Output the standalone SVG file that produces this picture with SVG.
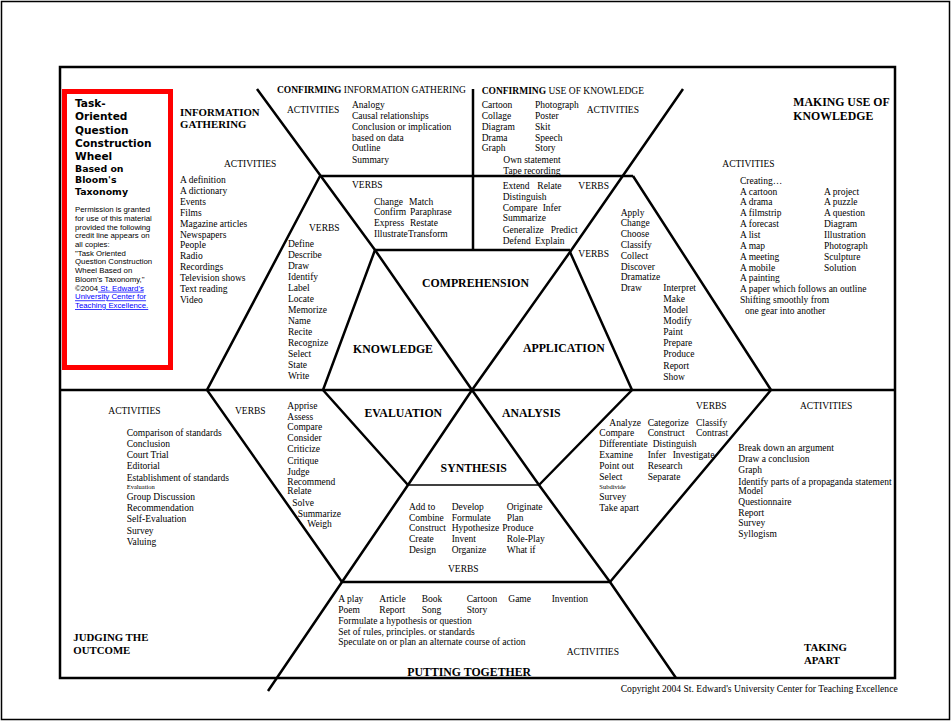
<svg xmlns="http://www.w3.org/2000/svg" width="951" height="721" viewBox="0 0 951 721">
<style>
.ln{stroke:#000;stroke-width:2.5;fill:none;stroke-linejoin:miter}
.thin{stroke:#000;stroke-width:1.5;fill:none}
.t{font-family:"Liberation Serif",serif;font-size:9.5px;fill:#000}
.sm{font-family:"Liberation Serif",serif;font-size:6.5px;fill:#000}
.lab{font-family:"Liberation Serif",serif;font-size:9.5px;fill:#000}
.h{font-family:"Liberation Serif",serif;font-weight:bold;font-size:11.8px;fill:#000}
.hc{font-family:"Liberation Serif",serif;font-weight:bold;font-size:10.8px;fill:#000}
.bt{font-family:"DejaVu Sans",sans-serif;font-weight:bold;fill:#000}
.p{font-family:"Liberation Sans",Arial,sans-serif;font-size:7.8px;fill:#000}
.lk{fill:#0000ff;text-decoration:underline}
</style>
<rect x="0" y="0" width="951" height="721" fill="#fff"/>
<rect x="1.5" y="1.5" width="948" height="718" fill="none" stroke="#000" stroke-width="1.5"/>

<g id="connectors">
<rect class="ln" x="60" y="67" width="835" height="611"/>
<line class="ln" x1="60" y1="390" x2="895" y2="390"/>
<polyline class="ln" points="257,89 375,250 472,390 539,485 610,582 676,678"/>
<polyline class="ln" points="683,89 570,252 472,390 408,485 342,582 268,691"/>
<polyline class="ln" points="320,176 207,390 342,582"/>
<polyline class="ln" points="633,176 771,390 610,582"/>
<line class="ln" x1="320" y1="176" x2="633" y2="176"/>
<line class="ln" x1="375" y1="250" x2="570" y2="250"/>
<line class="ln" x1="473" y1="89" x2="473" y2="250"/>
<polyline class="ln" points="375,250 323,390 408,485"/>
<polyline class="ln" points="570,252 632,390 539,485"/>
<line class="thin" x1="408" y1="485" x2="539" y2="485"/>
<line class="ln" x1="342" y1="582" x2="610" y2="582"/>
</g>

<g id="title-box">
<rect x="64.5" y="91.5" width="106" height="276" fill="none" stroke="#ff0000" stroke-width="5"/>
<text class="bt" font-size="10.6">
<tspan x="75" y="107">Task-</tspan>
<tspan x="75" y="120">Oriented</tspan>
<tspan x="75" y="133.5">Question</tspan>
<tspan x="75" y="146.5">Construction</tspan>
<tspan x="75" y="160">Wheel</tspan>
</text>
<text class="bt" font-size="9.4">
<tspan x="75" y="172">Based on</tspan>
<tspan x="75" y="183">Bloom's</tspan>
<tspan x="75" y="195">Taxonomy</tspan>
</text>
<text class="p">
<tspan x="75" y="212">Permission is granted</tspan>
<tspan x="75" y="221">for use of this material</tspan>
<tspan x="75" y="229.7">provided the following</tspan>
<tspan x="75" y="238.4">credit line appears on</tspan>
<tspan x="75" y="247">all copies:</tspan>
<tspan x="75" y="255.7">"Task Oriented</tspan>
<tspan x="75" y="264.4">Question Construction</tspan>
<tspan x="75" y="273">Wheel Based on</tspan>
<tspan x="75" y="281.7">Bloom's Taxonomy,"</tspan>
<tspan x="75" y="290.7">©2004<tspan class="lk"> St. Edward's</tspan></tspan>
<tspan x="75" y="299.4" class="lk">University Center for</tspan>
<tspan x="75" y="308" class="lk">Teaching Excellence.</tspan>
</text>
</g>

<g id="information-gathering">
<text class="hc"><tspan x="180" y="115.5">INFORMATION</tspan><tspan x="180" y="127.5">GATHERING</tspan></text>
<text class="lab" x="224" y="166.5">ACTIVITIES</text>
<text class="t">
<tspan x="180" y="183">A definition</tspan>
<tspan x="180" y="193.7">A dictionary</tspan>
<tspan x="180" y="204.7">Events</tspan>
<tspan x="180" y="216.3">Films</tspan>
<tspan x="180" y="227">Magazine articles</tspan>
<tspan x="180" y="237.7">Newspapers</tspan>
<tspan x="180" y="248.3">People</tspan>
<tspan x="180" y="258.7">Radio</tspan>
<tspan x="180" y="270.3">Recordings</tspan>
<tspan x="180" y="281.3">Television shows</tspan>
<tspan x="180" y="292.3">Text reading</tspan>
<tspan x="180" y="303">Video</tspan>
</text>
</g>

<g id="confirming-information-gathering">
<text class="t" x="277" y="92.5" font-size="9.7"><tspan font-weight="bold">CONFIRMING</tspan> INFORMATION GATHERING</text>
<text class="lab" x="287" y="113.3">ACTIVITIES</text>
<text class="t">
<tspan x="352" y="108">Analogy</tspan>
<tspan x="352" y="118.7">Causal relationships</tspan>
<tspan x="352" y="129.7">Conclusion or implication</tspan>
<tspan x="352" y="140.7">based on data</tspan>
<tspan x="352" y="151.3">Outline</tspan>
<tspan x="352" y="163">Summary</tspan>
</text>
<text class="lab" x="352" y="187.5">VERBS</text>
<text class="t">
<tspan x="374" y="204.7">Change</tspan><tspan x="409" y="204.7">Match</tspan>
<tspan x="374" y="215.3">Confirm</tspan><tspan x="410" y="215.3">Paraphrase</tspan>
<tspan x="374" y="226.3">Express</tspan><tspan x="410" y="226.3">Restate</tspan>
<tspan x="374" y="237">Illustrate</tspan><tspan x="408" y="237">Transform</tspan>
</text>
</g>

<g id="confirming-use-of-knowledge">
<text class="t" x="481.7" y="93.5" font-size="10.6"><tspan font-weight="bold">CONFIRMING</tspan> USE OF KNOWLEDGE</text>
<text class="lab" x="586.7" y="113.3">ACTIVITIES</text>
<text class="t">
<tspan x="481.7" y="108">Cartoon</tspan><tspan x="535" y="108">Photograph</tspan>
<tspan x="481.7" y="118.7">Collage</tspan><tspan x="535" y="118.7">Poster</tspan>
<tspan x="481.7" y="129.7">Diagram</tspan><tspan x="535" y="129.7">Skit</tspan>
<tspan x="481.7" y="140.7">Drama</tspan><tspan x="535" y="140.7">Speech</tspan>
<tspan x="481.7" y="151.3">Graph</tspan><tspan x="535" y="151.3">Story</tspan>
<tspan x="503.3" y="163">Own statement</tspan>
<tspan x="503.3" y="173.7">Tape recording</tspan>
</text>
<text class="lab" x="578.3" y="189">VERBS</text>
<text class="t">
<tspan x="502.7" y="188.7">Extend</tspan><tspan x="537.3" y="188.7">Relate</tspan>
<tspan x="502.7" y="199.7">Distinguish</tspan>
<tspan x="502.7" y="210.7">Compare</tspan><tspan x="542.7" y="210.7">Infer</tspan>
<tspan x="502.7" y="221.3">Summarize</tspan>
<tspan x="502.7" y="233">Generalize</tspan><tspan x="550.7" y="233">Predict</tspan>
<tspan x="502.7" y="243.7">Defend</tspan><tspan x="535" y="243.7">Explain</tspan>
</text>
</g>

<g id="making-use-of-knowledge">
<text class="h" font-size="12"><tspan x="793.3" y="106">MAKING USE OF</tspan><tspan x="793.3" y="120">KNOWLEDGE</tspan></text>
<text class="lab" x="722.3" y="166.5">ACTIVITIES</text>
<text class="t">
<tspan x="740" y="184">Creating…</tspan>
<tspan x="740" y="194.7">A cartoon</tspan><tspan x="824" y="194.7">A project</tspan>
<tspan x="740" y="205.3">A drama</tspan><tspan x="824" y="205.3">A puzzle</tspan>
<tspan x="740" y="216.3">A filmstrip</tspan><tspan x="824" y="216.3">A question</tspan>
<tspan x="740" y="227.3">A forecast</tspan><tspan x="824" y="227.3">Diagram</tspan>
<tspan x="740" y="238">A list</tspan><tspan x="824" y="238">Illustration</tspan>
<tspan x="740" y="249">A map</tspan><tspan x="824" y="249">Photograph</tspan>
<tspan x="740" y="259.7">A meeting</tspan><tspan x="824" y="259.7">Sculpture</tspan>
<tspan x="740" y="270.7">A mobile</tspan><tspan x="824" y="270.7">Solution</tspan>
<tspan x="740" y="281.3">A painting</tspan>
<tspan x="740" y="292.3">A paper which follows an outline</tspan>
<tspan x="740" y="303">Shifting smoothly from</tspan>
<tspan x="745" y="314">one gear into another</tspan>
</text>
</g>

<g id="knowledge">
<text class="lab" x="309" y="231">VERBS</text>
<text class="t">
<tspan x="288" y="247">Define</tspan>
<tspan x="288" y="258">Describe</tspan>
<tspan x="288" y="269">Draw</tspan>
<tspan x="288" y="280.3">Identify</tspan>
<tspan x="288" y="291.3">Label</tspan>
<tspan x="288" y="302">Locate</tspan>
<tspan x="288" y="313">Memorize</tspan>
<tspan x="288" y="324">Name</tspan>
<tspan x="288" y="335.3">Recite</tspan>
<tspan x="288" y="346.3">Recognize</tspan>
<tspan x="288" y="357">Select</tspan>
<tspan x="288" y="368">State</tspan>
<tspan x="288" y="378.7">Write</tspan>
</text>
<text class="h" x="393" y="353" text-anchor="middle">KNOWLEDGE</text>
</g>

<g id="comprehension">
<text class="h" x="475.5" y="287.3" text-anchor="middle">COMPREHENSION</text>
</g>

<g id="application">
<text class="h" x="563.8" y="352.3" text-anchor="middle">APPLICATION</text>
<text class="lab" x="578.3" y="257">VERBS</text>
<text class="t">
<tspan x="620.7" y="215.7">Apply</tspan>
<tspan x="620.7" y="226.3">Change</tspan>
<tspan x="620.7" y="237">Choose</tspan>
<tspan x="620.7" y="248">Classify</tspan>
<tspan x="620.7" y="259">Collect</tspan>
<tspan x="620.7" y="269.7">Discover</tspan>
<tspan x="620.7" y="280.3">Dramatize</tspan>
<tspan x="620.7" y="291.3">Draw</tspan>
<tspan x="663.3" y="291.3">Interpret</tspan>
<tspan x="663.3" y="302">Make</tspan>
<tspan x="663.3" y="313">Model</tspan>
<tspan x="663.3" y="324">Modify</tspan>
<tspan x="663.3" y="335.3">Paint</tspan>
<tspan x="663.3" y="346.3">Prepare</tspan>
<tspan x="663.3" y="357.3">Produce</tspan>
<tspan x="663.3" y="368.7">Report</tspan>
<tspan x="663.3" y="379.7">Show</tspan>
</text>
</g>

<g id="evaluation">
<text class="h" x="403.3" y="417.3" text-anchor="middle">EVALUATION</text>
<text class="lab" x="108.3" y="414">ACTIVITIES</text>
<text class="lab" x="235" y="414">VERBS</text>
<text class="t">
<tspan x="126.7" y="436.3">Comparison of standards</tspan>
<tspan x="126.7" y="447.3">Conclusion</tspan>
<tspan x="126.7" y="458">Court Trial</tspan>
<tspan x="126.7" y="468.7">Editorial</tspan>
<tspan x="126.7" y="480.7">Establishment of standards</tspan>
</text>
<text class="sm" x="126.7" y="489">Evaluation</text>
<text class="t">
<tspan x="126.7" y="500.3">Group Discussion</tspan>
<tspan x="126.7" y="511.3">Recommendation</tspan>
<tspan x="126.7" y="522.3">Self-Evaluation</tspan>
<tspan x="126.7" y="534">Survey</tspan>
<tspan x="126.7" y="544.7">Valuing</tspan>
</text>
<text class="t">
<tspan x="287.3" y="408.7">Apprise</tspan>
<tspan x="287.3" y="419.7">Assess</tspan>
<tspan x="287.3" y="430.3">Compare</tspan>
<tspan x="287.3" y="441.3">Consider</tspan>
<tspan x="287.3" y="452.3">Criticize</tspan>
<tspan x="287.3" y="463.7">Critique</tspan>
<tspan x="287.3" y="474.7">Judge</tspan>
<tspan x="287.3" y="484.7">Recommend</tspan>
<tspan x="287.3" y="494">Relate</tspan>
<tspan x="292.3" y="506.3">Solve</tspan>
<tspan x="297.7" y="517">Summarize</tspan>
<tspan x="307.3" y="527.3">Weigh</tspan>
</text>
</g>

<g id="analysis">
<text class="h" x="531.3" y="417.3" text-anchor="middle">ANALYSIS</text>
<text class="lab" x="696" y="409">VERBS</text>
<text class="lab" x="800" y="409">ACTIVITIES</text>
<text class="t">
<tspan x="609.3" y="425.7">Analyze</tspan><tspan x="647.7" y="425.7">Categorize</tspan><tspan x="696" y="425.7">Classify</tspan>
<tspan x="599.3" y="436.3">Compare</tspan><tspan x="647.7" y="436.3">Construct</tspan><tspan x="696" y="436.3">Contrast</tspan>
<tspan x="599.3" y="447.3">Differentiate</tspan><tspan x="652.7" y="447.3">Distinguish</tspan>
<tspan x="599.3" y="458">Examine</tspan><tspan x="647.7" y="458">Infer</tspan><tspan x="672.7" y="458">Investigate</tspan>
<tspan x="599.3" y="469">Point out</tspan><tspan x="647.7" y="469">Research</tspan>
<tspan x="599.3" y="479.7">Select</tspan><tspan x="647.7" y="479.7">Separate</tspan>
</text>
<text class="sm" x="599.3" y="489">Subdivide</text>
<text class="t">
<tspan x="599.3" y="500.3">Survey</tspan>
<tspan x="599.3" y="511.3">Take apart</tspan>
</text>
<text class="t">
<tspan x="738.3" y="451.3">Break down an argument</tspan>
<tspan x="738.3" y="462.3">Draw a conclusion</tspan>
<tspan x="738.3" y="473">Graph</tspan>
<tspan x="738.3" y="485.3">Identify parts of a propaganda statement</tspan>
<tspan x="738.3" y="494">Model</tspan>
<tspan x="738.3" y="505.3">Questionnaire</tspan>
<tspan x="738.3" y="515.7">Report</tspan>
<tspan x="738.3" y="526.3">Survey</tspan>
<tspan x="738.3" y="537.3">Syllogism</tspan>
</text>
</g>

<g id="synthesis">
<text class="h" x="473.7" y="472.3" text-anchor="middle">SYNTHESIS</text>
<text class="t">
<tspan x="409" y="509.7">Add to</tspan><tspan x="451.7" y="509.7">Develop</tspan><tspan x="506.7" y="509.7">Originate</tspan>
<tspan x="409" y="520.7">Combine</tspan><tspan x="451.7" y="520.7">Formulate</tspan><tspan x="506.7" y="520.7">Plan</tspan>
<tspan x="409" y="531.3">Construct</tspan><tspan x="451.7" y="531.3">Hypothesize</tspan><tspan x="502.3" y="531.3">Produce</tspan>
<tspan x="409" y="542.3">Create</tspan><tspan x="451.7" y="542.3">Invent</tspan><tspan x="506.7" y="542.3">Role-Play</tspan>
<tspan x="409" y="553">Design</tspan><tspan x="451.7" y="553">Organize</tspan><tspan x="506.7" y="553">What if</tspan>
</text>
<text class="lab" x="463.3" y="572.3" text-anchor="middle">VERBS</text>
</g>

<g id="putting-together">
<text class="t">
<tspan x="338.3" y="602.3">A play</tspan><tspan x="379.3" y="602.3">Article</tspan><tspan x="421.7" y="602.3">Book</tspan><tspan x="466.7" y="602.3">Cartoon</tspan><tspan x="508.3" y="602.3">Game</tspan><tspan x="551.7" y="602.3">Invention</tspan>
<tspan x="338.3" y="613">Poem</tspan><tspan x="379.3" y="613">Report</tspan><tspan x="421.7" y="613">Song</tspan><tspan x="466.7" y="613">Story</tspan>
<tspan x="338.3" y="624">Formulate a hypothesis or question</tspan>
<tspan x="338.3" y="634.7">Set of rules, principles. or standards</tspan>
<tspan x="338.3" y="645.3">Speculate on or plan an alternate course of action</tspan>
</text>
<text class="lab" x="566.7" y="655">ACTIVITIES</text>
<text class="h" x="469.2" y="676.3" text-anchor="middle">PUTTING TOGETHER</text>
</g>

<g id="judging-the-outcome">
<text class="hc"><tspan x="73.3" y="640.5">JUDGING THE</tspan><tspan x="73.3" y="654">OUTCOME</tspan></text>
</g>

<g id="taking-apart">
<text class="hc"><tspan x="804" y="651">TAKING</tspan><tspan x="804" y="664">APART</tspan></text>
</g>

<text class="t" x="620.7" y="692" font-size="8.5" textLength="277" lengthAdjust="spacingAndGlyphs">Copyright 2004 St. Edward's University Center for Teaching Excellence</text>
</svg>
